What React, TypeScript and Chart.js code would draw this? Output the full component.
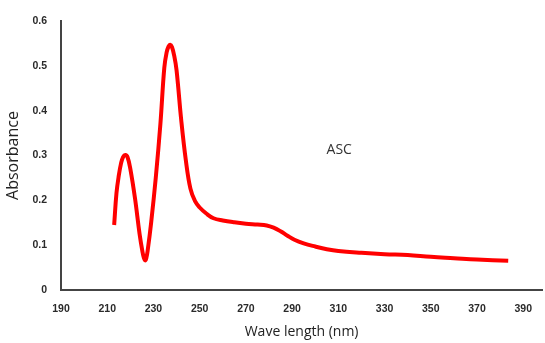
import React, { useEffect, useRef } from "react";
import { Chart, registerables } from "chart.js";

Chart.register(...registerables);

// Wavelength (nm) and absorbance
const wavelengths = [
  213, 214, 215, 216, 216.9, 217.8, 218.8, 220, 222, 224, 225.3, 225.9, 226.4,
  226.9, 227.5, 229, 231, 233, 234.7, 235.7, 236.5, 237.2, 238, 239, 240, 242,
  244, 246, 248, 250, 253, 256, 260, 265, 270, 275, 279, 282, 285, 288, 291,
  295, 300, 305, 310, 320, 330, 340, 350, 360, 370, 383.5,
];
const absorbance = [
  0.145, 0.216, 0.255, 0.283, 0.297, 0.301, 0.296, 0.27, 0.205, 0.125, 0.084,
  0.071, 0.066, 0.071, 0.088, 0.15, 0.25, 0.37, 0.496, 0.53, 0.543, 0.547,
  0.542, 0.522, 0.49, 0.38, 0.29, 0.226, 0.198, 0.184, 0.17, 0.16, 0.155,
  0.151, 0.148, 0.146, 0.144, 0.139, 0.131, 0.121, 0.112, 0.104, 0.097, 0.091,
  0.087, 0.083, 0.08, 0.078, 0.074, 0.071, 0.068, 0.065,
];
const xTickValues = [190, 210, 230, 250, 270, 290, 310, 330, 350, 370, 390];
const yTickValues = [0, 0.1, 0.2, 0.3, 0.4, 0.5, 0.6];
const xRange = [190, 398.2];
const yRange = [0, 0.6];
const seriesLabel = "ASC";
const seriesLabelAt = [310.4, 0.3125];
const xTitle = "Wave length (nm)";
const yTitle = "Absorbance";

const labelPlugin = {
  id: "seriesLabel",
  afterDatasetsDraw(chart: any) {
    const { ctx, scales } = chart;
    const x = scales.x.getPixelForValue(seriesLabelAt[0]);
    const y = scales.y.getPixelForValue(seriesLabelAt[1]);
    ctx.save();
    ctx.font = "14px 'Open Sans'";
    ctx.fillStyle = "#333333";
    ctx.textAlign = "center";
    ctx.textBaseline = "middle";
    ctx.fillText(seriesLabel, x, y);
    ctx.restore();
  },
};

export default function App() {
  const canvasRef = useRef<HTMLCanvasElement>(null);

  useEffect(() => {
    if (!canvasRef.current) return;
    const tickFont = { family: "'Liberation Sans'", size: 10.5, weight: "bold" as const };
    const chart = new Chart(canvasRef.current, {
      type: "line",
      data: {
        datasets: [
          {
            label: seriesLabel,
            data: wavelengths.map((w, i) => ({ x: w, y: absorbance[i] })),
            borderColor: "#ff0000",
            borderWidth: 4,
            pointRadius: 0,
            fill: false,
            tension: 0.4,
          },
        ],
      },
      options: {
        animation: false,
        responsive: false,
        layout: { padding: { top: 21, right: 0, bottom: 0, left: 0 } },
        plugins: {
          legend: { display: false },
          tooltip: { enabled: false },
        },
        scales: {
          x: {
            type: "linear",
            min: xRange[0],
            max: xRange[1],
            afterBuildTicks: (scale: any) => {
              scale.ticks = xTickValues.map((v) => ({ value: v }));
            },
            afterFit: (scale: any) => {
              scale.height = 53;
            },
            grid: { display: false, drawTicks: false },
            border: { display: true, color: "#444444", width: 2 },
            ticks: {
              padding: 13,
              color: "#2a2a2a",
              font: tickFont,
              maxRotation: 0,
              autoSkip: false,
            },
            title: {
              display: true,
              text: xTitle,
              color: "#222222",
              font: { family: "'Open Sans'", size: 14 },
              padding: { top: 0, bottom: 3 },
            },
          },
          y: {
            type: "linear",
            min: yRange[0],
            max: yRange[1],
            afterBuildTicks: (scale: any) => {
              scale.ticks = yTickValues.map((v) => ({ value: v }));
            },
            afterFit: (scale: any) => {
              scale.width = 61;
            },
            grid: { display: false, drawTicks: false },
            border: { display: true, color: "#444444", width: 2 },
            ticks: {
              padding: 14,
              color: "#2a2a2a",
              font: tickFont,
              callback: (v: any) => String(Math.round(Number(v) * 10) / 10),
            },
            title: {
              display: true,
              text: yTitle,
              color: "#222222",
              font: { family: "'Open Sans'", size: 16 },
              padding: { top: 4, bottom: 0 },
            },
          },
        },
      },
      plugins: [labelPlugin],
    });
    return () => chart.destroy();
  }, []);

  return (
    <div style={{ position: "absolute", left: 0, top: 0, width: 545, height: 343, background: "#fff" }}>
      <canvas ref={canvasRef} width={545} height={343} style={{ display: "block" }} />
    </div>
  );
}
